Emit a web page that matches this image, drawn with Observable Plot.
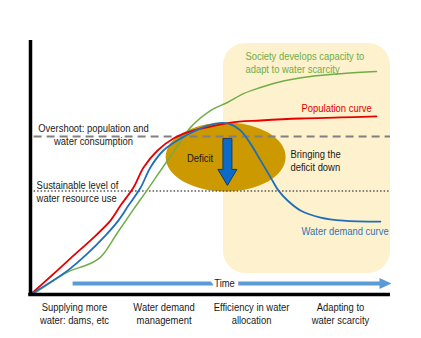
<!DOCTYPE html>
<html>
<head>
<meta charset="utf-8">
<script src="https://cdn.jsdelivr.net/npm/d3@7"></script>
<script src="https://cdn.jsdelivr.net/npm/@observablehq/plot@0.6"></script>
<style>
  html, body { margin: 0; padding: 0; background: white; }
  #chart { width: 421px; height: 338px; }
</style>
</head>
<body>
<div id="chart"></div>
<script>
// ---- Data (time 0..100, level 0..100) ----
const popT      = [0, 5.6, 11.1, 18.1, 22.2, 25, 28.6, 31.4, 35.3, 39.7, 44.4, 50, 55.6, 63.9, 75, 86.1, 96.1];
const popLevel  = [0, 7.1, 14.2, 23.2, 29.1, 35, 42.1, 50, 56.7, 61.4, 64.2, 66.1, 67.7, 68.5, 69.3, 69.7, 70.1];

const demandT     = [0, 10.3, 15.8, 20.8, 24.4, 27.2, 30.6, 33.3, 36.9, 41.7, 47.2, 51.4, 55, 58.3, 61.1, 63.9, 66.7, 68.9, 71.4, 75, 80.6, 86.9, 97.2];
const demandLevel = [0, 9.4, 16.1, 23.2, 29.1, 35, 42.1, 50, 56.7, 61.4, 65.4, 67.3, 67.3, 64.6, 59.4, 52.8, 46.1, 40.9, 37, 33.1, 30.3, 29.1, 28.7];

const adaptT      = [0.6, 5.6, 11.1, 15.3, 19.4, 24.2, 28.6, 32.5, 36.9, 40.8, 44.4, 50, 54.7, 59.2, 63.9, 68.6, 77.8, 86.9, 96.1];
const adaptLevel  = [0, 4.7, 9.4, 11.4, 14.6, 24.4, 33.5, 41.3, 50.4, 58.3, 65.7, 72.4, 75.6, 79.1, 81.5, 83.5, 85.8, 87, 87.8];

const overshootLevel   = 62.2;
const sustainableLevel = 40.7;

// adaptation zone (time range / level range)
const zoneT = [53.6, 100];
const zoneLevel = [8.3, 98.8];

// deficit ellipse centre and arrow centre
const deficitCentre = {t: 54.2, level: 54.1};
const arrowCentre   = {t: 54.7, level: 52};

// time arrow
const timeArrowT = [11.7, 97.5];
const timeArrowLevel = 4.3;

// stage labels along the time axis
const stageLabels = ["Supplying more\nwater: dams, etc", "Water demand\nmanagement", "Efficiency in water\nallocation", "Adapting to\nwater scarcity"];
const stageT = [12.2, 37.1, 61.4, 86.1];
const stageLevel = -7.3;

// annotation labels (left-aligned)
const leftNotes = [
  {text: "Society develops capacity to\nadapt to water scarcity", t: 59.7, level: 91.5, color: "#70AD47"},
  {text: "Population curve", t: 75.3, level: 73.6, color: "#E00000"},
  {text: "Sustainable level of\nwater resource use", t: 1.7, level: 40.7, color: "#1a1a1a"},
  {text: "Bringing the\ndeficit down", t: 72.2, level: 52.8, color: "#1a1a1a"},
  {text: "Water demand curve", t: 75.3, level: 25.2, color: "#2E75B6"}
];
// annotation labels (centred)
const centreNotes = [
  {text: "Overshoot: population and\nwater consumption", t: 17.5, level: 63.0, color: "#1a1a1a"},
  {text: "Deficit", t: 47.1, level: 53.9, color: "#1a1a1a"}
];
const timeLabel = {text: "Time", t: 53.9, level: 4.6};

// ---- Build tables ----
const pop = popT.map((t, i) => ({t, level: popLevel[i]}));
const demand = demandT.map((t, i) => ({t, level: demandLevel[i]}));
const adapt = adaptT.map((t, i) => ({t, level: adaptLevel[i]}));
const stages = stageLabels.map((text, i) => ({text, t: stageT[i], level: stageLevel}));

// custom symbols (pixel shapes)
const k = 0.5523;
const ellipseSymbol = {
  draw(ctx) {
    const rx = 60, ry = 34.5;
    ctx.moveTo(rx, 0);
    ctx.bezierCurveTo(rx, ry * k, rx * k, ry, 0, ry);
    ctx.bezierCurveTo(-rx * k, ry, -rx, ry * k, -rx, 0);
    ctx.bezierCurveTo(-rx, -ry * k, -rx * k, -ry, 0, -ry);
    ctx.bezierCurveTo(rx * k, -ry, rx, -ry * k, rx, 0);
    ctx.closePath();
  }
};
const downArrowSymbol = {
  draw(ctx) {
    ctx.moveTo(-4.5, -24);
    ctx.lineTo(4.5, -24);
    ctx.lineTo(4.5, 7);
    ctx.lineTo(9.5, 7);
    ctx.lineTo(0, 23);
    ctx.lineTo(-9.5, 7);
    ctx.lineTo(-4.5, 7);
    ctx.closePath();
  }
};
const rightHeadSymbol = {
  draw(ctx) {
    ctx.moveTo(-2, -5.5);
    ctx.lineTo(10, 0);
    ctx.lineTo(-2, 5.5);
    ctx.closePath();
  }
};

const font = "'Liberation Sans', Arial, sans-serif";

const chart = Plot.plot({
  width: 421,
  height: 338,
  marginLeft: 30,
  marginRight: 31,
  marginTop: 40,
  marginBottom: 44,
  x: {domain: [0, 100], axis: null},
  y: {domain: [0, 100], axis: null},
  style: {fontFamily: font, fontSize: "11.5px", background: "white", overflow: "visible"},
  marks: [
    Plot.rect([{x1: zoneT[0], x2: zoneT[1], y1: zoneLevel[0], y2: zoneLevel[1]}],
      {x1: "x1", x2: "x2", y1: "y1", y2: "y2", fill: "#FDF1CE", rx: 22}),
    Plot.dot([deficitCentre], {x: "t", y: "level", symbol: ellipseSymbol, fill: "#CC9900", stroke: "none", r: 30}),
    Plot.ruleY([overshootLevel], {x1: 1, x2: 100, stroke: "#808080", strokeWidth: 2, strokeDasharray: "8,5"}),
    Plot.ruleY([sustainableLevel], {x1: 1, x2: 100, stroke: "#555555", strokeWidth: 1.5, strokeDasharray: "1.5,2"}),
    Plot.line(adapt, {x: "t", y: "level", stroke: "#70AD47", strokeWidth: 1.5, curve: "catmull-rom"}),
    Plot.line(pop, {x: "t", y: "level", stroke: "#E60000", strokeWidth: 1.8, curve: "catmull-rom"}),
    Plot.line(demand, {x: "t", y: "level", stroke: "#1F6FB8", strokeWidth: 1.8, curve: "catmull-rom"}),
    Plot.dot([arrowCentre], {x: "t", y: "level", symbol: downArrowSymbol, fill: "#0A6CC8", stroke: "#1F3864", strokeWidth: 1, r: 10}),
    Plot.link([{x1: timeArrowT[0], x2: timeArrowT[1], y: timeArrowLevel}],
      {x1: "x1", x2: "x2", y1: "y", y2: "y", stroke: "#5B9BD5", strokeWidth: 4}),
    Plot.dot([{t: timeArrowT[1], level: timeArrowLevel}], {x: "t", y: "level", symbol: rightHeadSymbol, fill: "#5B9BD5", stroke: "none", r: 5}),
    Plot.text(leftNotes, {x: "t", y: "level", text: "text", fill: "color", textAnchor: "start", lineHeight: 1.15}),
    Plot.text(centreNotes, {x: "t", y: "level", text: "text", fill: "color", textAnchor: "middle", lineHeight: 1.15}),
    Plot.text([timeLabel], {x: "t", y: "level", text: "text", fill: "#1a1a1a", stroke: "white", strokeWidth: 9, paintOrder: "stroke"}),
    Plot.text(stages, {x: "t", y: "level", text: "text", fill: "#1a1a1a", lineHeight: 1.15}),
    Plot.ruleX([0], {y1: 0, y2: 100, stroke: "black", strokeWidth: 3.5}),
    Plot.ruleY([0], {x1: -0.5, x2: 100, stroke: "black", strokeWidth: 3.5})
  ]
});

// Narrow the lettering horizontally (reference uses a condensed sans face)
d3.select(chart).selectAll("text").each(function () {
  const el = d3.select(this);
  let tr = el.attr("transform");
  const x = el.attr("x"), y = el.attr("y");
  if (!tr) {
    tr = `translate(${x || 0},${y || 0})`;
    el.attr("x", null).attr("y", null);
  }
  el.attr("transform", tr + " scale(0.82,1)");
});

document.getElementById("chart").appendChild(chart);
</script>
</body>
</html>
